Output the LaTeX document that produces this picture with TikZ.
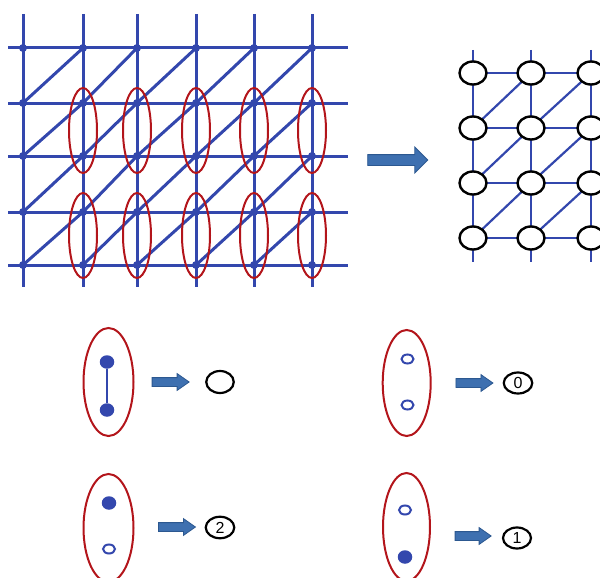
\documentclass[tikz,border=0pt]{standalone}
\usepackage{fontspec}
\setmainfont{Liberation Sans}
\usetikzlibrary{shapes.geometric,shapes.arrows}
\definecolor{gridblue}{HTML}{3347AD}
\definecolor{ovalred}{HTML}{B3151B}
\definecolor{arrowfill}{HTML}{3E70B0}
\definecolor{arrowline}{HTML}{2C5890}
\tikzset{
  gridline/.style={gridblue, line width=3pt},
  thingrid/.style={gridblue, line width=2.2pt},
  redoval/.style={ellipse, draw=ovalred, line width=2pt, inner sep=0pt},
  siteoval/.style={ellipse, draw=black, fill=white, line width=2.4pt, inner sep=0pt, minimum width=27pt, minimum height=23pt},
  numoval/.style={ellipse, draw=black, fill=white, line width=2.2pt, inner sep=0pt, font=\fontsize{16}{16}\selectfont},
  blockarrow/.style={single arrow, draw=arrowline, fill=arrowfill, line width=0.8pt, inner xsep=0pt, single arrow head indent=0pt},
  bigarrow/.style={blockarrow, inner ysep=5pt, single arrow head extend=7.5pt, minimum height=60pt},
  smallarrow/.style={blockarrow, inner ysep=4pt, single arrow head extend=4pt, single arrow tip angle=70, minimum height=37pt},
  filldot/.style={ellipse, fill=gridblue, inner sep=0pt, minimum width=14.5pt, minimum height=13.5pt},
  opendot/.style={ellipse, draw=gridblue, fill=white, line width=2pt, inner sep=0pt, minimum width=12pt, minimum height=9pt}
}
\begin{document}
\begin{tikzpicture}[x=1pt,y=-1pt]
\useasboundingbox (0,0) rectangle (600,578);
\clip (0,0) rectangle (600,578);
% ---------- left lattice ----------
\foreach \x [count=\i] in {23,83,137,196,254,312} {
  \coordinate (Lt-\i) at (\x,14);
  \coordinate (Lb-\i) at (\x,287);
  \foreach \y [count=\j] in {48,103,156,212,265} {
    \coordinate (L-\i-\j) at (\x,\y);
  }
}
\foreach \y [count=\j] in {48,103,156,212,265} {
  \coordinate (Ll-\j) at (8,\y);
  \coordinate (Lr-\j) at (348,\y);
}
\foreach \i in {1,...,6} { \draw[gridline] (Lt-\i) -- (Lb-\i); }
\foreach \j in {1,...,5} { \draw[gridline] (Ll-\j) -- (Lr-\j); }
\foreach \i [evaluate=\i as \ii using int(\i+1)] in {1,...,5} {
  \foreach \j [evaluate=\j as \jj using int(\j+1)] in {1,...,4} {
    \draw[gridline] (L-\i-\jj) -- (L-\ii-\j);
  }
}
\foreach \i in {1,...,6} { \foreach \j in {1,...,5} { \fill[gridblue] (L-\i-\j) circle (4pt); } }
\foreach \x [count=\i] in {83,137,196,254,312} {
  \node[redoval, minimum width=28pt, minimum height=85pt] (Ea-\i) at (\x,130.5) {};
  \node[redoval, minimum width=28pt, minimum height=85pt] (Eb-\i) at (\x,235.5) {};
}
% ---------- middle arrow ----------
\node[bigarrow] (mainarrow) at (395,160) {};
% ---------- right lattice ----------
\foreach \x [count=\i] in {473,531,591,649} {
  \coordinate (Rt-\i) at (\x,50);
  \coordinate (Rb-\i) at (\x,262);
  \foreach \y [count=\j] in {73,128,183,238} {
    \coordinate (R-\i-\j) at (\x,\y);
  }
}
\foreach \i in {1,...,3} { \draw[thingrid] (Rt-\i) -- (Rb-\i); }
\foreach \j in {1,...,4} { \draw[thingrid] (R-1-\j) -- (R-4-\j); }
\foreach \i [evaluate=\i as \ii using int(\i+1)] in {1,...,3} {
  \foreach \j [evaluate=\j as \jj using int(\j+1)] in {1,...,3} {
    \draw[thingrid] (R-\i-\jj) -- (R-\ii-\j);
  }
}
\foreach \i in {1,...,3} { \foreach \j in {1,...,4} { \node[siteoval] (S-\i-\j) at (R-\i-\j) {}; } }
% ---------- legend: both sites filled and bonded ----------
\node[redoval, minimum width=50pt, minimum height=108pt] (LA) at (108.5,382) {};
\node[filldot] (LAt) at (107,362) {};
\node[filldot] (LAb) at (107,410) {};
\draw[gridblue, line width=2pt] (LAt) -- (LAb);
\node[smallarrow] (AA) at (167.5,382) {};
\node[siteoval, line width=2.2pt, minimum width=27.5pt, minimum height=22pt] (CA) at (220,382) {};
% ---------- legend: both empty ----------
\node[redoval, minimum width=48pt, minimum height=106pt] (LB) at (406.7,383) {};
\node[opendot] (LBt) at (407.5,359) {};
\node[opendot] (LBb) at (407.5,405) {};
\node[smallarrow] (AB) at (471.3,383) {};
\node[numoval, minimum width=28.5pt, minimum height=21pt] (CB) at (518,383) {0};
% ---------- legend: top filled ----------
\node[redoval, minimum width=50pt, minimum height=108pt] (LC) at (108.5,528) {};
\node[filldot] (LCt) at (109,503) {};
\node[opendot] (LCb) at (109,549) {};
\node[smallarrow] (AC) at (173.8,527) {};
\node[numoval, minimum width=28.5pt, minimum height=21.5pt] (CC) at (220,527.5) {2};
% ---------- legend: bottom filled ----------
\node[redoval, minimum width=47pt, minimum height=108pt] (LD) at (406.5,527) {};
\node[opendot] (LDt) at (405,510) {};
\node[filldot] (LDb) at (405,557) {};
\node[smallarrow, minimum height=36pt] (AD) at (470,536) {};
\node[numoval, minimum width=28pt, minimum height=21pt] (CD) at (517,538) {1};
\end{tikzpicture}
\end{document}
